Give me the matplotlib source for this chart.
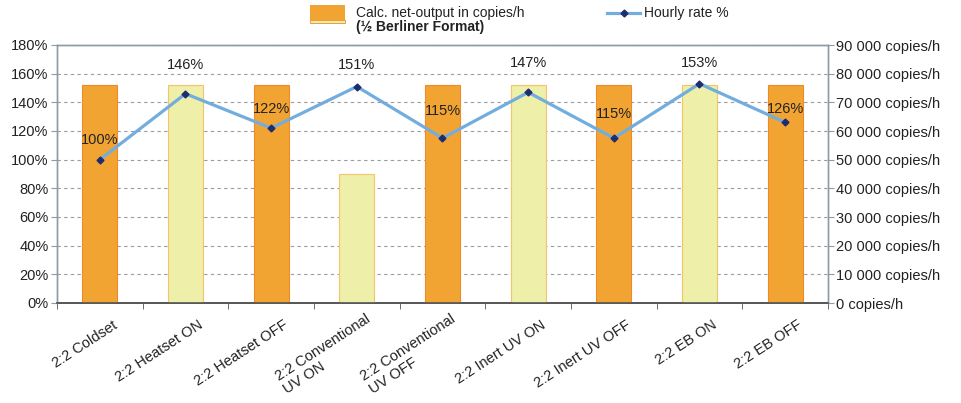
"""
Net output and hourly rate per printing configuration
"""
import numpy as np
import matplotlib as mpl
mpl.use('Agg')
import matplotlib.pyplot as plt
from matplotlib.patches import Rectangle
from matplotlib.lines import Line2D
from matplotlib.ticker import FuncFormatter, MultipleLocator
from matplotlib.transforms import ScaledTranslation

mpl.rcParams['font.family'] = ['Liberation Sans', 'DejaVu Sans']
mpl.rcParams['font.size'] = 10.5

categories = ["2:2 Coldset", "2:2 Heatset ON", "2:2 Heatset OFF",
              "2:2 Conventional\nUV ON", "2:2 Conventional\nUV OFF",
              "2:2 Inert UV ON", "2:2 Inert UV OFF", "2:2 EB ON", "2:2 EB OFF"]
copies_per_h = [76000, 76000, 76000, 45000, 76000, 76000, 76000, 76000, 76000]
hourly_rate = [100, 146, 122, 151, 115, 147, 115, 153, 126]
dryer_on = [False, True, False, True, False, True, False, True, False]

# vertical distance (px) of each rate label above its marker
label_lift = [20, 29, 19, 22, 27, 29, 24, 21, 13]

orange = '#F2A433'
orange_edge = '#EE8A2A'
yellow = '#EEEFA8'
yellow_edge = '#F5C46A'
line_blue = '#72ADDE'
navy = '#1E2D6E'
spine_col = '#8B9CA5'
text_col = '#222222'

fig = plt.figure(figsize=(9.62, 4.03), dpi=100)
ax2 = fig.add_axes([57 / 962, 1 - 303 / 403, (828 - 57) / 962, (303 - 45) / 403])
ax = ax2.twinx()

x = np.arange(len(categories))

# bars on the copies/h axis, with grid behind them
ax2.set_zorder(1)
ax.set_zorder(2)
ax.patch.set_visible(False)
for xi, val, on in zip(x, copies_per_h, dryer_on):
    ax2.bar(xi, val, width=0.41, color=yellow if on else orange,
            edgecolor=yellow_edge if on else orange_edge, linewidth=0.8,
            zorder=3)
ax2.set_ylim(0, 90000)
ax2.yaxis.set_major_locator(MultipleLocator(10000))
ax2.grid(axis='y', linestyle=(0, (3, 3)), color='#9A9A9A', linewidth=0.8,
         zorder=0)
ax2.set_axisbelow(True)

# hourly rate line
ax.plot(x, hourly_rate, color=line_blue, linewidth=2.3, marker='D',
        markersize=3.5, markerfacecolor=navy, markeredgecolor=navy, zorder=5)
for xi, val, lift in zip(x, hourly_rate, label_lift):
    ax.annotate(f"{val}%", xy=(xi, val), xytext=(0, lift * 0.72),
                textcoords='offset points', ha='center', va='center',
                color=text_col, fontsize=10.5)
ax.set_ylim(0, 180)
ax.yaxis.set_major_locator(MultipleLocator(20))

# swap sides: percent on the left, copies/h on the right
ax.yaxis.tick_left()
ax2.yaxis.tick_right()
ax.yaxis.set_major_formatter(FuncFormatter(lambda v, p: f"{v:.0f}%"))
ax2.yaxis.set_major_formatter(
    FuncFormatter(lambda v, p: f"{v:,.0f}".replace(',', ' ') + " copies/h"))

ax2.set_xlim(-0.5, len(categories) - 0.5)
ax2.set_xticks(x)
ax2.set_xticklabels(categories, rotation=33, ha='right', va='center',
                    rotation_mode='anchor', color=text_col, fontsize=10.5,
                    linespacing=1.1, multialignment='left')
ax2.tick_params(axis='x', which='major', length=0, pad=0)
shift = ScaledTranslation(0.16, -0.21, fig.dpi_scale_trans)
for lab in ax2.get_xticklabels():
    lab.set_transform(lab.get_transform() + shift)
ax2.set_xticks(np.arange(-0.5, len(categories), 1.0), minor=True)
ax2.tick_params(axis='x', which='minor', length=4, color='#555555')

for axis in [ax, ax2]:
    axis.tick_params(axis='y', length=4, color=spine_col, labelcolor=text_col,
                     labelsize=10.5, pad=2)
    for s in ['left', 'right', 'top']:
        axis.spines[s].set_color(spine_col)
        axis.spines[s].set_linewidth(1.0)
    axis.spines['bottom'].set_color('#555555')
    axis.spines['bottom'].set_linewidth(1.2)

# legend drawn in figure space
fig.patches.append(Rectangle((310 / 962, 1 - 20 / 403), 35 / 962, 15 / 403,
                             transform=fig.transFigure, facecolor=orange,
                             edgecolor='none'))
fig.patches.append(Rectangle((310 / 962, 1 - 23 / 403), 35 / 962, 3 / 403,
                             transform=fig.transFigure, facecolor=yellow,
                             edgecolor=orange_edge, linewidth=0.6))
fig.text(356 / 962, 1 - 13 / 403, "Calc. net-output in copies/h",
         va='center', ha='left', fontsize=10, color=text_col)
fig.text(356 / 962, 1 - 27 / 403, "(½ Berliner Format)",
         va='center', ha='left', fontsize=10, color=text_col,
         fontweight='bold')
fig.lines.append(Line2D([607 / 962, 640 / 962], [1 - 13 / 403] * 2,
                        transform=fig.transFigure, color=line_blue,
                        linewidth=2.3))
fig.lines.append(Line2D([623.5 / 962], [1 - 13 / 403],
                        transform=fig.transFigure, marker='D', markersize=3.5,
                        color=navy))
fig.text(644 / 962, 1 - 13 / 403, "Hourly rate %", va='center', ha='left',
         fontsize=10, color=text_col)

fig.savefig('out.png', dpi=100)
